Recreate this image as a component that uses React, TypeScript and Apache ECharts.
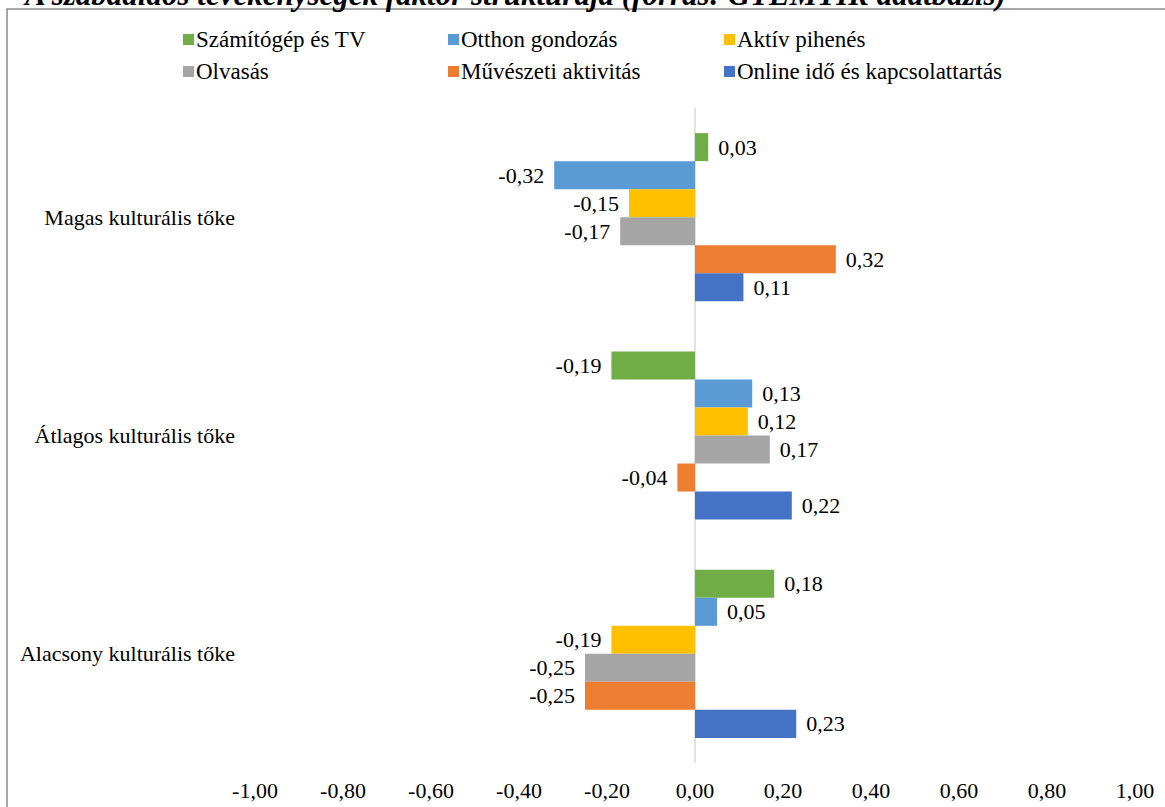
import React, { useEffect, useRef } from "react";
import * as echarts from "echarts";

const categories = ["Magas kulturális tőke", "Átlagos kulturális tőke", "Alacsony kulturális tőke"];
const seriesNames = [
  "Számítógép és TV",
  "Otthon gondozás",
  "Aktív pihenés",
  "Olvasás",
  "Művészeti aktivitás",
  "Online idő és kapcsolattartás",
];
const szamitogep = [0.03, -0.19, 0.18];
const otthon = [-0.32, 0.13, 0.05];
const aktiv = [-0.15, 0.12, -0.19];
const olvasas = [-0.17, 0.17, -0.25];
const muveszeti = [0.32, -0.04, -0.25];
const online = [0.11, 0.22, 0.23];
const seriesValues = [szamitogep, otthon, aktiv, olvasas, muveszeti, online];
const colors = ["#70AD47", "#5B9BD5", "#FFC000", "#A5A5A5", "#ED7D31", "#4472C4"];
const titleText = "A szabadidős tevékenységek faktor struktúrája (forrás: GYEMTIR adatbázis)";

const FONT = "'Liberation Serif', 'Times New Roman', serif";
const fmt = (v: number) => v.toFixed(2).replace(".", ",");

const legendPos = [
  { left: 183, top: 28 },
  { left: 448, top: 28 },
  { left: 724, top: 28 },
  { left: 183, top: 60 },
  { left: 448, top: 60 },
  { left: 724, top: 60 },
];

export default function App() {
  const ref = useRef<HTMLDivElement>(null);
  useEffect(() => {
    if (!ref.current) return;
    const chart = echarts.init(ref.current, null, { renderer: "svg" });
    const splitColors = [0, 1, 2, 3, 4, 5, 6, 7, 8, 9, 10].map((i) =>
      i === 5 ? "#D9D9D9" : "rgba(0,0,0,0)"
    );
    chart.setOption({
      animation: false,
      textStyle: { fontFamily: FONT },
      color: colors,
      graphic: [
        {
          type: "rect",
          shape: { x: 7, y: 9, width: 1300, height: 900 },
          style: { fill: "none", stroke: "#8C8C8C", lineWidth: 1.5 },
          silent: true,
        },
        {
          type: "text",
          x: 25,
          y: 10,
          style: {
            text: titleText,
            font: `italic bold 31px ${FONT}`,
            fill: "#000",
            verticalAlign: "bottom",
          },
          silent: true,
        },
      ],
      legend: seriesNames.map((name, i) => ({
        data: [name],
        left: legendPos[i].left,
        top: legendPos[i].top,
        itemWidth: 11,
        itemHeight: 11,
        itemGap: 0,
        icon: "rect",
        padding: 0,
        textStyle: { fontFamily: FONT, fontSize: 23, color: "#000", padding: [0, 0, 0, -3] },
        selectedMode: false,
      })),
      grid: { left: 255, right: 30, top: 108, bottom: 44, containLabel: false },
      xAxis: {
        type: "value",
        min: -1,
        max: 1,
        interval: 0.2,
        axisLine: { show: false },
        axisTick: { show: false },
        splitLine: { show: true, lineStyle: { color: splitColors, width: 1.5 } },
        axisLabel: {
          formatter: (v: number) => fmt(v),
          fontFamily: FONT,
          fontSize: 22,
          color: "#000",
          margin: 16,
        },
      },
      yAxis: {
        type: "category",
        data: categories,
        inverse: true,
        axisLine: { show: false },
        axisTick: { show: false },
        splitLine: { show: false },
        axisLabel: { fontFamily: FONT, fontSize: 22, color: "#000", margin: 20 },
      },
      series: seriesNames.map((name, i) => ({
        name,
        type: "bar",
        barGap: "0%",
        barCategoryGap: "23%",
        itemStyle: { color: colors[i] },
        data: seriesValues[i].map((v) => ({
          value: v,
          label: { position: v >= 0 ? "right" : "left" },
        })),
        label: {
          show: true,
          distance: 10,
          formatter: (p: any) => fmt(p.value),
          fontFamily: FONT,
          fontSize: 22,
          color: "#000",
        },
      })),
    });
    return () => chart.dispose();
  }, []);
  return <div ref={ref} style={{ width: 1165, height: 807, position: "absolute", left: 0, top: 0 }} />;
}
